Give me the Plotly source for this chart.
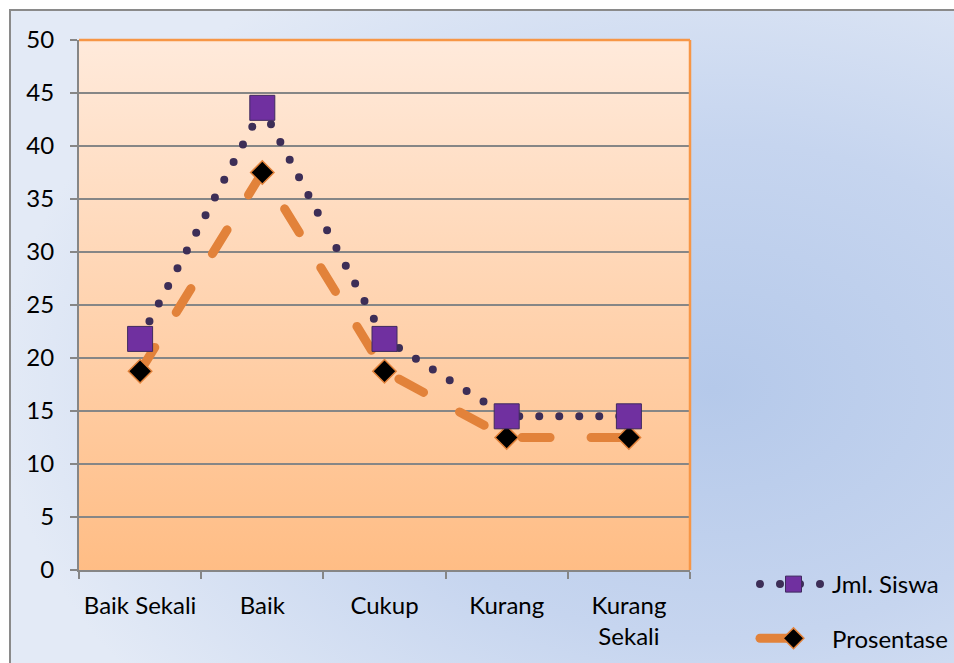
import base64
import plotly.graph_objects as go

# Chart data
categories = ["Baik Sekali", "Baik", "Cukup", "Kurang", "Kurang<br>Sekali"]
jml_siswa = [21.8, 43.6, 21.8, 14.5, 14.5]
prosentase = [18.75, 37.5, 18.75, 12.5, 12.5]
y_ticks = list(range(0, 55, 5))

W, H = 954, 663
L, R, T, B = 79, 690, 40, 570  # plot area edges in pixels


def px_x(x):
    return (x - L) / (R - L)


def px_y(y):
    return (B - y) / (B - T)


def svg_uri(svg):
    return "data:image/svg+xml;base64," + base64.b64encode(svg.encode()).decode()


chart_bg = svg_uri(
    '<svg xmlns="http://www.w3.org/2000/svg" width="1000" height="700" '
    'viewBox="0 0 1000 700" preserveAspectRatio="none"><defs>'
    '<radialGradient id="g" cx="0.71" cy="0.55" r="0.72">'
    '<stop offset="0" stop-color="#B5C9EA"/>'
    '<stop offset="0.5" stop-color="#C6D5EF"/>'
    '<stop offset="1" stop-color="#E3EAF6"/>'
    '</radialGradient></defs>'
    '<rect width="1000" height="700" fill="url(#g)"/></svg>'
)

plot_bg = svg_uri(
    '<svg xmlns="http://www.w3.org/2000/svg" width="100" height="100" '
    'viewBox="0 0 100 100" preserveAspectRatio="none"><defs>'
    '<linearGradient id="p" x1="0" y1="0" x2="0" y2="1">'
    '<stop offset="0" stop-color="#FFEADB"/>'
    '<stop offset="1" stop-color="#FFBD85"/>'
    '</linearGradient></defs>'
    '<rect width="100" height="100" fill="url(#p)"/></svg>'
)

font = "Lato, 'Open Sans', sans-serif"
FS = 24
ORANGE = "#E2823A"
DOT = "#3D2E57"

fig = go.Figure()

fig.add_trace(go.Scatter(
    x=categories, y=prosentase, name="Prosentase",
    mode="lines+markers", legendgroup="b", legendrank=2,
    line=dict(color=ORANGE, width=9, dash="28px,41px"),
    marker=dict(symbol="diamond", size=18, color="black",
                line=dict(color=ORANGE, width=1.5)),
))

fig.add_trace(go.Scatter(
    x=categories, y=jml_siswa, name="Jml. Siswa",
    mode="lines+markers", legendgroup="a", legendrank=1,
    line=dict(color=DOT, width=8, dash="0px,20px"),
    marker=dict(symbol="square", size=25, color="#7030A0",
                line=dict(color="#3F2A5E", width=1)),
))

fig.update_layout(
    width=W, height=H,
    margin=dict(l=L, r=W - R, t=T, b=H - B, autoexpand=False),
    paper_bgcolor="white",
    plot_bgcolor="rgba(0,0,0,0)",
    font=dict(family=font, size=FS, color="black"),
    showlegend=True,
    legend=dict(
        x=px_x(755), y=px_y(562), xanchor="left", yanchor="top",
        bgcolor="rgba(0,0,0,0)", tracegroupgap=20, itemwidth=67,
        traceorder="grouped", font=dict(size=FS),
    ),
    images=[
        dict(source=chart_bg, xref="paper", yref="paper",
             x=px_x(10), y=px_y(10), sizex=px_x(1000) - px_x(10),
             sizey=px_y(10) - px_y(700), xanchor="left", yanchor="top",
             sizing="stretch", layer="below"),
        dict(source=plot_bg, xref="paper", yref="paper",
             x=0, y=1, sizex=1, sizey=1, xanchor="left", yanchor="top",
             sizing="stretch", layer="below"),
    ],
    shapes=[
        # outer chart frame
        dict(type="rect", xref="paper", yref="paper",
             x0=px_x(10), y0=px_y(10), x1=px_x(1000), y1=px_y(700),
             line=dict(color="#8A8A8A", width=2), layer="below"),
        # orange plot-area border (top and right)
        dict(type="line", xref="paper", yref="paper", x0=0, x1=1, y0=1, y1=1,
             line=dict(color="#F79646", width=2.5), layer="above"),
        dict(type="line", xref="paper", yref="paper", x0=1, x1=1, y0=0, y1=1,
             line=dict(color="#F79646", width=2.5), layer="above"),
    ],
)

fig.update_xaxes(
    type="category", range=[-0.5, 4.5], automargin=False, tickangle=0,
    tickson="boundaries", ticks="outside", ticklen=7, tickwidth=2,
    tickcolor="#868686", showline=True, linecolor="#868686", linewidth=2,
    showgrid=False, ticklabelstandoff=13,
    tickfont=dict(family=font, size=FS, color="black"),
)

fig.update_yaxes(
    range=[0, 50], tickvals=y_ticks, automargin=False,
    ticks="outside", ticklen=7, tickwidth=2,
    tickcolor="#868686", showline=True, linecolor="#868686", linewidth=2,
    showgrid=True, gridcolor="#868686", gridwidth=1.5, zeroline=False,
    ticklabelstandoff=11,
    tickfont=dict(family=font, size=FS, color="black"),
)

# rounded caps turn the dash patterns into dots and rounded dashes
round_caps = (
    "document.getElementById('{plot_id}').querySelectorAll('path.js-line')"
    ".forEach(function(p){p.style.strokeLinecap='round';});"
)

fig.write_html("out.html", post_script=round_caps)
